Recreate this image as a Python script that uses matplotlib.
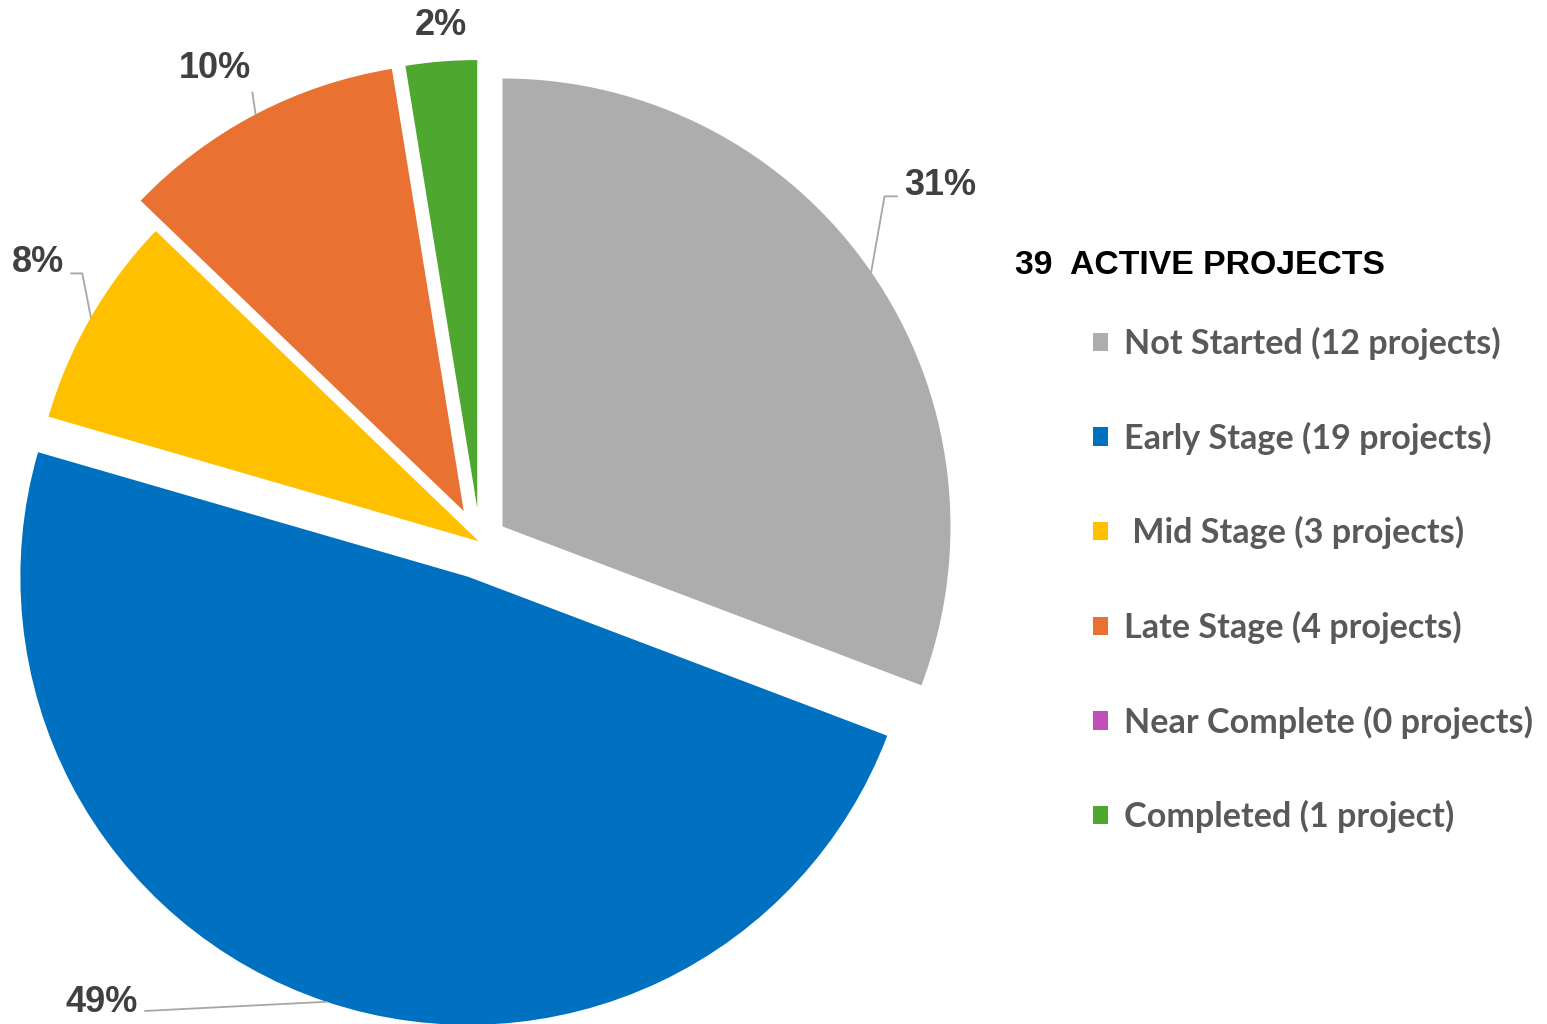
import matplotlib
matplotlib.use("Agg")
import numpy as np
import matplotlib.pyplot as plt

# data
stages = ["Not Started (12 projects)", "Early Stage (19 projects)", " Mid Stage (3 projects)",
          "Late Stage (4 projects)", "Near Complete (0 projects)", "Completed (1 project)"]
counts = [12, 19, 3, 4, 0, 1]
pct_labels = ["31%", "49%", "8%", "10%", "", "2%"]
colors = ["#ADADAD", "#0070C0", "#FFC000", "#E97132", "#C050B8", "#4EA72E"]
explode = [0.061, 0.082, 0.003, 0.078, 0.0, 0.076]
title = "39  ACTIVE PROJECTS"

# label layout (data coords, pie radius = 1)
label_xy = [(1.027, 0.795), (-0.844, -1.028), (-0.987, 0.623), (-0.592, 1.058), None, (-0.087, 1.153)]
label_relpos = [(0, 0.2), (1, 0.25), (1, 0.2), (1, 0.1), None, None]
label_conn = ["angle,angleA=0,angleB=80,rad=0", "arc3", "angle,angleA=0,angleB=101,rad=0",
              "arc3", None, None]

W, H = 1547, 1024
px = 448.0          # pixels per unit radius
cx, cy = 480, 542   # pie centre in pixels (from top-left)

fig = plt.figure(figsize=(W / 100, H / 100), dpi=100)
ax = fig.add_axes([0, 0, 1, 1])

wedges, _ = ax.pie(counts, colors=colors, explode=explode, startangle=90,
                   counterclock=False, radius=1, wedgeprops=dict(linewidth=0))

ax.set_xlim(-cx / px, (W - cx) / px)
ax.set_ylim(-(H - cy) / px, cy / px)
ax.set_aspect("equal")
ax.axis("off")

lab_font = ["Liberation Sans", "DejaVu Sans"]
for w, lab, xy, rp, cs in zip(wedges, pct_labels, label_xy, label_relpos, label_conn):
    if not lab:
        continue
    ang = np.deg2rad((w.theta1 + w.theta2) / 2)
    anchor = (w.center[0] + w.r * np.cos(ang), w.center[1] + w.r * np.sin(ang))
    if cs is None:
        ax.text(xy[0], xy[1], lab, ha="center", va="center", fontsize=26,
                fontweight="bold", color="#404040", family=lab_font)
    else:
        ax.annotate(lab, xy=anchor, xytext=xy, ha="center", va="center", fontsize=26,
                    fontweight="bold", color="#404040", family=lab_font,
                    arrowprops=dict(arrowstyle="-", color="#A6A6A6", lw=1.3,
                                    shrinkA=3, shrinkB=0, relpos=rp,
                                    connectionstyle=cs))

fig.text(1015 / W, 1 - 265 / H, title, ha="left", va="center", fontsize=24.3,
         fontweight="bold", color="black", family=lab_font)

leg = fig.legend(wedges, stages, loc="upper left", bbox_to_anchor=(1093 / W, 1 - 327 / H),
                 frameon=False, borderpad=0, borderaxespad=0, handlelength=0.45,
                 handleheight=0.45, handletextpad=0.45, labelspacing=1.8,
                 prop=dict(family=["Lato", "DejaVu Sans"], weight="bold", size=24.6))
for t in leg.get_texts():
    t.set_color("#595959")

fig.savefig("out.png", dpi=100)
